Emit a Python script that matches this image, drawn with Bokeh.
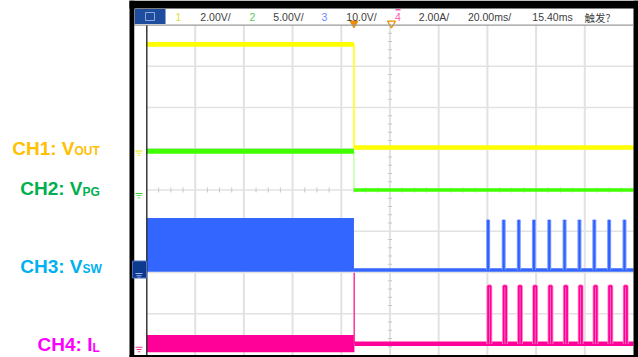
import numpy as np
from bokeh.plotting import figure
from bokeh.models import Range1d, BoxAnnotation, Label
from bokeh.embed import file_html
from bokeh.resources import INLINE

# ---------------- data ----------------
time_per_div_ms = 20.0
n_time_div = 10
n_vert_div = 8

header_labels = ["1", "2.00V/", "2", "5.00V/", "3", "10.0V/", "4", "2.00A/",
                 "20.00ms/", "15.40ms", "触发?"]

channel_names = ["CH1: V", "CH2: V", "CH3: V", "CH4: I"]
channel_subs = ["OUT", "PG", "SW", "L"]
channel_scale = [2.0, 5.0, 10.0, 2.0]          # V/div, V/div, V/div, A/div
channel_ground_div = [5.03, 4.0, 2.06, 0.27]   # ground marker, divisions from bottom

event_ms = 85.2          # trigger instant (ms from left edge)
trigger_delay_ms = 15.4  # delay marker offset

# CH1  V_OUT  (V)
vout_time = [0.0, 85.2, 85.2, 200.0]
vout_value = [5.0, 5.0, 0.0, 0.0]

# CH2  V_PG  (V)
vpg_time = [0.0, 85.2, 85.2, 200.0]
vpg_value = [4.7, 4.7, 0.0, 0.0]

# CH3  V_SW  (V): continuous switching envelope, then idle with burst pulses
vsw_burst_time = [0.0, 85.2]
vsw_burst_low = [-0.4, -0.4]
vsw_burst_high = [12.6, 12.6]
vsw_idle_time = [85.2, 200.0]
vsw_idle_value = [0.0, 0.0]
pulse_time = [140.3, 146.7, 152.9, 159.1, 165.4, 171.7, 177.8, 183.9, 190.0, 196.3]
vsw_pulse_peak = [12.2, 12.2, 12.2, 12.2, 12.2, 12.2, 12.2, 12.2, 12.2, 12.2]

# CH4  I_L  (A)
il_burst_time = [0.0, 85.4]
il_burst_low = [-0.41, -0.41]
il_burst_high = [0.43, 0.43]
il_idle_time = [85.4, 200.0]
il_idle_value = [0.0, 0.0]
il_event_time = 85.3
il_event_peak = 3.45
il_pulse_peak = [2.8, 2.8, 2.8, 2.8, 2.8, 2.8, 2.8, 2.8, 2.8, 2.8]
il_pulse_width_ms = 1.0

# ---------------- layout / style ----------------
W, H = 638, 357
X0, X1 = 146.0, 633.0        # graticule left / right (px)
Y0, Y1 = 24.5, 354.5         # graticule top / bottom (px)
ms_span = time_per_div_ms * n_time_div
px_ms = (X1 - X0) / ms_span
px_div = (Y1 - Y0) / n_vert_div

YEL, GRN, BLU, PNK = "#FFFF00", "#40FF00", "#3366FF", "#FF0099"
label_colors = ["#FFC000", "#00B050", "#00B0F0", "#FF00FF"]
marker_colors = ["#E6E600", "#33CC33", "#A8B8FF", "#FF3399"]

p = figure(width=W, height=H, output_backend="svg", toolbar_location=None,
           x_range=Range1d(0, W), y_range=Range1d(H, 0),
           x_axis_type=None, y_axis_type=None, min_border=0,
           outline_line_color=None, background_fill_color="white",
           border_fill_color="white")

div_lo = (Y1 - H) / px_div
div_hi = Y1 / px_div
p.extra_x_ranges = {"t": Range1d(-X0 / px_ms, (W - X0) / px_ms)}
yr = {"div": Range1d(div_lo, div_hi)}
for i, (s, g) in enumerate(zip(channel_scale, channel_ground_div)):
    yr["ch%d" % (i + 1)] = Range1d((div_lo - g) * s, (div_hi - g) * s)
p.extra_y_ranges = yr

T = dict(x_range_name="t")

# ---- graticule ----
GRID = "#E2E2E2"
vx = [k * time_per_div_ms for k in range(1, n_time_div)]
p.segment(x0=vx, y0=[0] * len(vx), x1=vx, y1=[n_vert_div] * len(vx),
          line_color=GRID, line_width=2, y_range_name="div", **T)
hy = list(range(1, n_vert_div))
p.segment(x0=[0] * len(hy), y0=hy, x1=[ms_span] * len(hy), y1=hy,
          line_color=GRID, line_width=1.6, y_range_name="div", **T)
# centre-line minor ticks
cx = ms_span / 2
cy = n_vert_div / 2
ty = [k * 0.2 for k in range(1, n_vert_div * 5) if k % 5 != 0]
p.segment(x0=[cx - 0.9] * len(ty), y0=ty, x1=[cx + 0.9] * len(ty), y1=ty,
          line_color="#C8C8C8", line_width=1, y_range_name="div", **T)
tx = [k * time_per_div_ms / 4 for k in range(1, n_time_div * 4) if k % 4 != 0]
p.segment(x0=tx, y0=[cy - 0.06] * len(tx), x1=tx, y1=[cy + 0.06] * len(tx),
          line_color="#C8C8C8", line_width=1, y_range_name="div", **T)


def step_trace(t, v, rng, color, thick, thin, edge_color):
    p.line(t, v, line_color=edge_color, line_width=thin, y_range_name=rng, **T)
    hx0, hx1, hy0 = [], [], []
    for a in range(len(t) - 1):
        if v[a] == v[a + 1]:
            hx0.append(t[a]); hx1.append(t[a + 1]); hy0.append(v[a])
    for x0, x1, y0, w in zip(hx0, hx1, hy0, thick):
        p.segment(x0=[x0], y0=[y0], x1=[x1], y1=[y0], line_color=color,
                  line_width=w, y_range_name=rng, **T)


# CH1
step_trace(vout_time, vout_value, "ch1", YEL, [4.8, 4.5], 1.5, YEL)
# CH2
step_trace(vpg_time, vpg_value, "ch2", GRN, [5.0, 3.4], 1.0, "#A0FF80")

# CH3
p.varea(x=vsw_burst_time, y1=vsw_burst_low, y2=vsw_burst_high,
        fill_color=BLU, y_range_name="ch3", **T)
p.line(vsw_idle_time, vsw_idle_value, line_color=BLU, line_width=3.5,
       y_range_name="ch3", **T)
p.segment(x0=pulse_time, y0=[0] * len(pulse_time), x1=pulse_time, y1=vsw_pulse_peak,
          line_color="#7A9CFF", line_width=4, y_range_name="ch3", **T)
p.segment(x0=pulse_time, y0=[0] * len(pulse_time), x1=pulse_time, y1=vsw_pulse_peak,
          line_color="#2F5FFF", line_width=2, y_range_name="ch3", **T)

# CH4
p.varea(x=il_burst_time, y1=il_burst_low, y2=il_burst_high,
        fill_color=PNK, y_range_name="ch4", **T)
p.segment(x0=[il_event_time], y0=[0], x1=[il_event_time], y1=[il_event_peak],
          line_color="#FF3399", line_width=1.5, y_range_name="ch4", **T)
p.line(il_idle_time, il_idle_value, line_color=PNK, line_width=4.5,
       y_range_name="ch4", **T)
pxs = [[t, t, t + il_pulse_width_ms, t + il_pulse_width_ms] for t in pulse_time]
pys = [[0, pk, pk, 0] for pk in il_pulse_peak]
p.multi_line(pxs, pys, line_color="#FF99CC", line_width=3.5, y_range_name="ch4", **T)
p.multi_line(pxs, pys, line_color=PNK, line_width=1.8, y_range_name="ch4", **T)

# ---------------- scope chrome ----------------
def box(l, r, t, b, color, line=None):
    p.add_layout(BoxAnnotation(left=l, right=r, top=t, bottom=b, fill_color=color,
                               fill_alpha=1.0, line_color=line, line_alpha=1.0 if line else 0,
                               level="overlay"))

box(129, W, 0, 8, "black")
box(129, 134, 0, H, "black")
box(X1, W, 0, H, "black")
box(129, W, Y1, H, "black")
box(134, 146, 25, Y1, "white")
box(134.5, 165, 8.5, 23.5, "#1E4C9E")
box(145, 154, 12, 20, "#1E4C9E", "#8FA8D8")
p.add_layout(BoxAnnotation(left=134, right=X1, top=24, bottom=25.2, fill_color="#9A9A9A",
                           fill_alpha=1, line_alpha=0, level="overlay"))
p.add_layout(BoxAnnotation(left=145.6, right=147, top=25, bottom=Y1, fill_color="#2A2A2A",
                           fill_alpha=1, line_alpha=0, level="overlay"))

# header texts
header_x = [178, 215, 252, 288, 324, 361, 397.5, 433.5, 489, 552, 597]
header_col = ["#DDDD44", "#404040", "#55CC55", "#404040", "#6688FF", "#404040",
              "#FF55AA", "#404040", "#404040", "#404040", "#404040"]
for txt, hx, hc in zip(header_labels, header_x, header_col):
    font = "Noto Sans CJK SC" if not txt.isascii() else "Liberation Sans"
    p.add_layout(Label(x=hx, y=16.8, text=txt, text_align="center", text_baseline="middle",
                       text_font=font, text_font_size="10.5px", text_color=hc))
box(395, 400, 8.5, 10, "#FF55AA")

# trigger position markers
p.scatter(x=[event_ms], y=[n_vert_div + 0.04], marker="inverted_triangle", size=8,
          fill_color="#F08C00", line_color="#F08C00", y_range_name="div", **T)
p.scatter(x=[event_ms + trigger_delay_ms], y=[n_vert_div + 0.04], marker="inverted_triangle",
          size=8, fill_color="white", line_color="#F08C00", line_width=1.3,
          y_range_name="div", **T)

# trigger level marker
p.add_layout(Label(x=140.5, y=48, text="T", text_align="center", text_baseline="middle",
                   text_font="DejaVu Sans", text_font_size="9px", text_color="#E6E600"))
p.scatter(x=[142.5], y=[58], marker="triangle", angle=-np.pi / 2, size=6,
          fill_color="#E6E600", line_color="#E6E600")

# channel ground markers
for i, g in enumerate(channel_ground_div):
    gy = Y1 - g * px_div
    c = marker_colors[i]
    if i == 2:
        box(132, 146, gy - 9, gy + 8, "#0D3A8C", "#4C6FC0")
    p.add_layout(Label(x=137, y=gy - 3, text=str(i + 1), text_align="center",
                       text_baseline="middle", text_font="DejaVu Sans",
                       text_font_size="9px", text_color=c))
    p.scatter(x=[142.5], y=[gy - 1.5], marker="triangle", angle=-np.pi / 2, size=6,
              fill_color=c, line_color=c)
    for k, half in enumerate([3.5, 2.5, 1.2]):
        p.add_layout(BoxAnnotation(left=138.5 - half, right=138.5 + half,
                                   top=gy + 3 + 2.2 * k, bottom=gy + 3.9 + 2.2 * k,
                                   fill_color=c, fill_alpha=1, line_alpha=0, level="overlay"))

# channel labels on the left (y = vertical centre of capitals)
sub_x = [74, 82, 82, 92]
main_y = [147.5, 188, 265.5, 343.5]
sub_y = [150.5, 191, 268.5, 347.5]
for name, sub, c, sx, my, sy in zip(channel_names, channel_subs, label_colors,
                                    sub_x, main_y, sub_y):
    p.add_layout(Label(x=sx, y=my, text=name, text_align="right", text_baseline="middle",
                       text_font="Liberation Sans", text_font_style="bold",
                       text_font_size="19px", text_color=c))
    p.add_layout(Label(x=sx, y=sy, text=sub, text_align="left",
                       text_baseline="middle", text_font="Liberation Sans",
                       text_font_style="bold", text_font_size="12px", text_color=c))

open("out.html", "w").write(file_html(p, INLINE))
